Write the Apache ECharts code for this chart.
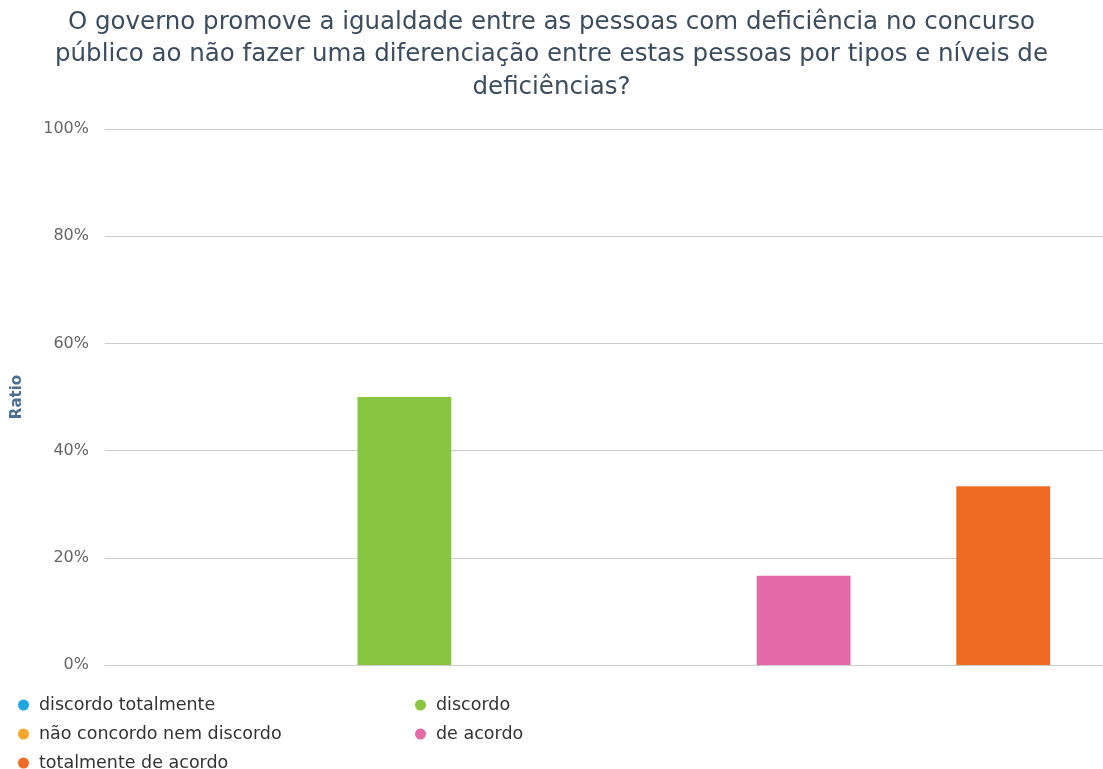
<!DOCTYPE html>
<html>
<head>
<meta charset="utf-8">
<script src="https://cdn.jsdelivr.net/npm/echarts@6/dist/echarts.min.js"></script>
<style>
  html, body { margin: 0; padding: 0; background: #fff; }
  #chart { width: 1103px; height: 769px; }
</style>
</head>
<body>
<div id="chart"></div>
<script>
// answer categories (one bar each)
const categories = ['discordo totalmente', 'discordo', 'não concordo nem discordo', 'de acordo', 'totalmente de acordo']
// share of answers (%)
const ratios = [0, 50, 0, 16.67, 33.33]
const colors = ['#1fa8e0', '#88c540', '#f8a52a', '#e36aa7', '#ef6a25']
const yTicks = [0, 20, 40, 60, 80, 100]

const chart = echarts.init(document.getElementById('chart'))

// one series per answer so each gets its own legend entry
const series = categories.map((name, i) => ({
  name: name,
  type: 'bar',
  stack: 'all',
  barWidth: '47%',
  itemStyle: { color: colors[i] },
  data: categories.map((c, j) => (j === i ? ratios[i] : null))
}))

const legendBase = {
  orient: 'vertical',
  top: 691,
  height: 90,
  icon: 'circle',
  itemWidth: 21,
  itemHeight: 11,
  itemGap: 11,
  textStyle: { fontFamily: 'DejaVu Sans', fontSize: 17.5, color: '#333' }
}

chart.setOption({
  animation: false,
  title: {
    text: 'O governo promove a igualdade entre as pessoas com deficiência no concurso\npúblico ao não fazer uma diferenciação entre estas pessoas por tipos e níveis de\ndeficiências?',
    left: 'center',
    top: 1,
    textStyle: {
      fontFamily: 'DejaVu Sans',
      fontSize: 24.5,
      fontWeight: 'normal',
      color: '#3b4d5e',
      lineHeight: 32.5
    }
  },
  grid: {
    left: 105,
    right: 0,
    top: 129,
    bottom: 104
  },
  legend: [
    Object.assign({}, legendBase, { data: [categories[0], categories[2], categories[4]], left: 13 }),
    Object.assign({}, legendBase, { data: [categories[1], categories[3]], left: 410 })
  ],
  xAxis: {
    type: 'category',
    data: categories,
    axisLine: { lineStyle: { color: '#ccc' } },
    axisTick: { alignWithLabel: true, length: 5, lineStyle: { color: '#ccc' } },
    axisLabel: { show: false }
  },
  yAxis: {
    type: 'value',
    min: yTicks[0],
    max: yTicks[yTicks.length - 1],
    interval: 20,
    name: 'Ratio',
    nameLocation: 'middle',
    nameGap: 80,
    nameTextStyle: {
      fontFamily: 'DejaVu Sans',
      fontSize: 15,
      fontWeight: 'bold',
      color: '#4a6e96'
    },
    axisLabel: {
      margin: 16,
      fontFamily: 'DejaVu Sans',
      fontSize: 16,
      color: '#666',
      formatter: '{value}%'
    },
    splitLine: { lineStyle: { color: '#ccc' } }
  },
  series: series
})
</script>
</body>
</html>
